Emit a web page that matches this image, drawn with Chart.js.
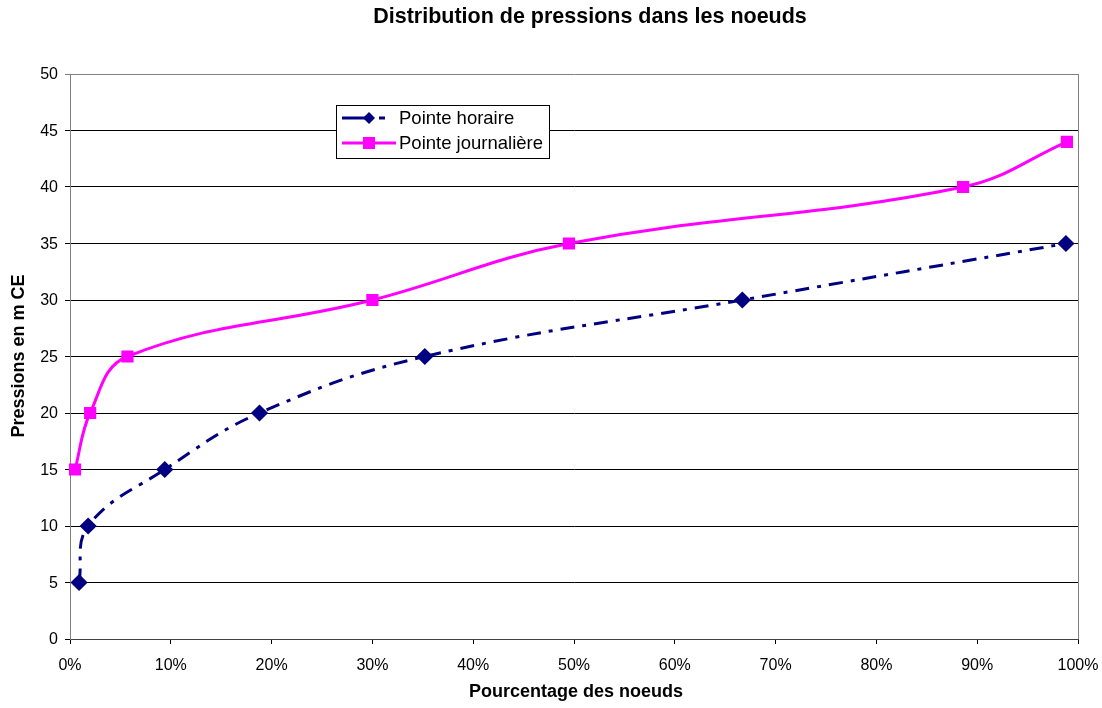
<!DOCTYPE html>
<html>
<head>
<meta charset="utf-8">
<script src="https://cdn.jsdelivr.net/npm/chart.js@4/dist/chart.umd.min.js"></script>
<style>
  html, body { margin: 0; padding: 0; background: #fff; }
  #wrap { width: 1102px; height: 708px; }
</style>
</head>
<body>
<div id="wrap"><canvas id="c" width="1102" height="708"></canvas></div>
<script>
// Pourcentage des noeuds (%) et pression (m CE) pour chaque série
const horairePct = [0.9, 1.8, 9.4, 18.8, 35.2, 66.7, 98.8];
const horairePression = [5, 10, 15, 20, 25, 30, 35];
const journalierePct = [0.5, 2.0, 5.7, 30.0, 49.5, 88.6, 98.9];
const journalierePression = [15, 20, 25, 30, 35, 40, 44];
const seriesNames = ['Pointe horaire', 'Pointe journalière'];
const titleText = 'Distribution de pressions dans les noeuds';
const xTitle = 'Pourcentage des noeuds';
const yTitle = 'Pressions en m CE';

const FONT = 'Arial, "Liberation Sans", sans-serif';
const BLUE = '#000080';
const PINK = '#FF00FF';
const DASH = [14, 8, 4, 8];

const toPoints = (xs, ys) => xs.map((x, i) => ({ x: x, y: ys[i] }));

function text(ctx, str, x, y, font, align) {
  ctx.font = font;
  ctx.textAlign = align;
  ctx.textBaseline = 'middle';
  ctx.fillText(str, x, y);
}

// Titre, étiquettes d'axes, cadre et légende dessinés sur le canevas
const decor = {
  id: 'decor',
  afterDraw(chart) {
    const ctx = chart.ctx;
    const a = chart.chartArea;
    const xs = chart.scales.x, ys = chart.scales.y;
    ctx.save();
    // cadre droit
    ctx.strokeStyle = '#808080';
    ctx.lineWidth = 1;
    ctx.beginPath();
    ctx.moveTo(a.right + 0.5, a.top);
    ctx.lineTo(a.right + 0.5, a.bottom);
    ctx.stroke();
    ctx.fillStyle = '#000';
    // titre
    text(ctx, titleText, 590, 17, 'bold 21.5px ' + FONT, 'center');
    // graduations
    const tickFont = '16px ' + FONT;
    ys.ticks.forEach(t => {
      text(ctx, String(t.value), 58, ys.getPixelForValue(t.value) + 1, tickFont, 'right');
    });
    xs.ticks.forEach(t => {
      text(ctx, t.value + '%', xs.getPixelForValue(t.value), 666, tickFont, 'center');
    });
    // titres des axes
    text(ctx, xTitle, (a.left + a.right) / 2 + 2, 692, 'bold 18px ' + FONT, 'center');
    ctx.save();
    ctx.translate(19, 356);
    ctx.rotate(-Math.PI / 2);
    text(ctx, yTitle, 0, 0, 'bold 18px ' + FONT, 'center');
    ctx.restore();
    // légende
    const lx = 336, ly = 105, lw = 213, lh = 53;
    ctx.fillStyle = '#fff';
    ctx.fillRect(lx, ly, lw, lh);
    ctx.strokeStyle = '#000';
    ctx.lineWidth = 1;
    ctx.strokeRect(lx + 0.5, ly + 0.5, lw, lh);
    const rows = [
      { y: ly + 13, color: BLUE, dash: [30, 7, 6, 30], width: 3, shape: 'diamond' },
      { y: ly + 38, color: PINK, dash: [], width: 3, shape: 'square' }
    ];
    rows.forEach((r, i) => {
      ctx.strokeStyle = r.color;
      ctx.lineWidth = r.width;
      ctx.setLineDash(r.dash);
      ctx.beginPath();
      ctx.moveTo(lx + 6, r.y);
      ctx.lineTo(lx + 60, r.y);
      ctx.stroke();
      ctx.setLineDash([]);
      ctx.fillStyle = r.color;
      const cx = lx + 33;
      if (r.shape === 'diamond') {
        ctx.beginPath();
        ctx.moveTo(cx, r.y - 6);
        ctx.lineTo(cx + 6, r.y);
        ctx.lineTo(cx, r.y + 6);
        ctx.lineTo(cx - 6, r.y);
        ctx.closePath();
        ctx.fill();
      } else {
        ctx.fillRect(cx - 6, r.y - 6, 12, 12);
      }
      ctx.fillStyle = '#000';
      text(ctx, seriesNames[i], lx + 63, r.y + 1, '18.5px ' + FONT, 'left');
    });
    ctx.restore();
  }
};

new Chart(document.getElementById('c'), {
  type: 'line',
  data: {
    datasets: [
      {
        label: seriesNames[0],
        data: toPoints(horairePct, horairePression),
        borderColor: BLUE,
        backgroundColor: BLUE,
        borderWidth: 3,
        borderDash: DASH,
        tension: 0.4,
        pointStyle: 'rectRot',
        pointRadius: 6.5,
        pointHoverRadius: 6.5,
        clip: false
      },
      {
        label: seriesNames[1],
        data: toPoints(journalierePct, journalierePression),
        borderColor: PINK,
        backgroundColor: PINK,
        borderWidth: 3,
        tension: 0.4,
        pointStyle: 'rect',
        pointRadius: 6.5,
        pointHoverRadius: 6.5,
        clip: false
      }
    ]
  },
  plugins: [decor],
  options: {
    responsive: false,
    animation: false,
    layout: { padding: { top: 74, right: 24, left: 0, bottom: 0 } },
    plugins: {
      legend: { display: false },
      title: { display: false },
      tooltip: { enabled: false }
    },
    scales: {
      x: {
        type: 'linear',
        min: 0,
        max: 100,
        afterFit(s) { s.height = 69; },
        ticks: { stepSize: 10, display: false },
        grid: { drawOnChartArea: false, drawTicks: true, tickLength: 5, color: '#000' },
        border: { color: '#404040', width: 1 }
      },
      y: {
        min: 0,
        max: 50,
        afterFit(s) { s.width = 70; },
        ticks: { stepSize: 5, display: false },
        grid: {
          drawTicks: true,
          tickLength: 5,
          color: ctx => (ctx.tick && ctx.tick.value === 50 ? '#808080' : '#000'),
          lineWidth: 1
        },
        border: { color: '#808080', width: 1 }
      }
    }
  }
});
</script>
</body>
</html>
